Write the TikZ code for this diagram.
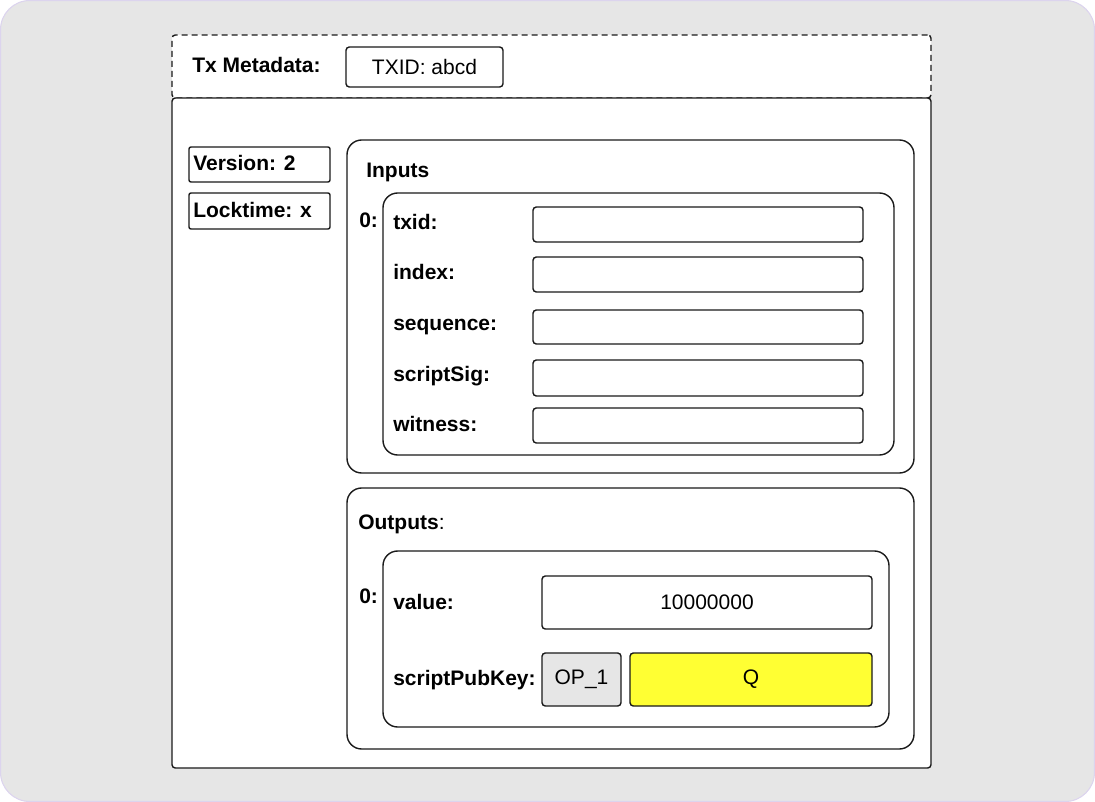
\documentclass[tikz,border=0pt]{standalone}
\usepackage{fontspec}
\setmainfont{Liberation Sans}
\usetikzlibrary{fit}
\definecolor{bggrey}{HTML}{E6E6E6}
\definecolor{bgedge}{HTML}{DCD4EE}
\definecolor{ink}{HTML}{1A1A1A}
\definecolor{qyellow}{HTML}{FFFF33}
\begin{document}
\begin{tikzpicture}[x=0.75pt,y=-0.75pt,
  box/.style={draw=ink, line width=1.05pt, inner sep=0pt, rounded corners=2.5pt, fill=white},
  group/.style={draw=ink, line width=1.05pt, inner sep=0pt, rounded corners=11pt, fill=white},
  lbl/.style={anchor=base west, inner sep=0pt, font=\fontsize{15.75}{18}\selectfont\bfseries},
  txt/.style={font=\fontsize{15.75}{18}\selectfont}
]
\useasboundingbox (0,0) rectangle (1095,802);
\node[fill=bggrey, draw=bgedge, line width=0.8pt, rounded corners=22pt, inner sep=0pt, fit={(0.5,0.5) (1094.5,801.5)}] (bg) {};
% metadata
\node[box, dash pattern=on 4.5pt off 3pt, fit={(172,35) (931,98)}] (meta) {};
\node[lbl] (metal) at (192,73) {Tx Metadata:};
\node[box, fit={(346,47) (503,87)}] (txidbox) {};
\node[txt] (txidt) at (txidbox.center) {TXID: abcd};
% main
\node[box, fit={(172,98) (931,768)}] (main) {};
\node[box, rounded corners=1.5pt, fit={(189,147) (330,182)}] (ver) {};
\node[lbl] (vert) at (193,171) {Version: 2};
\node[box, rounded corners=1.5pt, fit={(189,193) (330,229)}] (lock) {};
\node[lbl] (lockt) at (193,218) {Locktime: x};
% inputs
\node[group, fit={(347,140) (914,473)}] (inputs) {};
\node[lbl] (inputst) at (366,178) {Inputs};
\node[group, fit={(383,193) (894,455)}] (in0) {};
\node[lbl] (in0t) at (359,228) {0:};
\node[lbl] (l1) at (393,229) {txid:};
\node[lbl] (l2) at (393,279) {index:};
\node[lbl] (l3) at (393,330) {sequence:};
\node[lbl] (l4) at (393,381) {scriptSig:};
\node[lbl] (l5) at (393,431) {witness:};
\node[box, fit={(533,207) (863,242)}] (f1) {};
\node[box, fit={(533,257) (863,292)}] (f2) {};
\node[box, fit={(533,310) (863,344)}] (f3) {};
\node[box, fit={(533,360) (863,396)}] (f4) {};
\node[box, fit={(533,408) (863,443)}] (f5) {};
% outputs
\node[group, fit={(347,488) (914,749)}] (outputs) {};
\node[lbl] (outputst) at (358,529) {Outputs\textmd{:}};
\node[group, fit={(383,551) (889,727)}] (out0) {};
\node[lbl] (out0t) at (359,603) {0:};
\node[lbl] (vall) at (393,609) {value:};
\node[lbl] (spkl) at (393,685) {scriptPubKey:};
\node[box, fit={(542,576) (872,629)}] (valbox) {};
\node[txt] (valt) at (valbox.center) {10000000};
\node[box, fill=bggrey, fit={(542,653) (621,706)}] (opbox) {};
\node[txt] (opt) at (opbox.center) {OP\_1};
\node[box, fill=qyellow, fit={(630,653) (872,706)}] (qbox) {};
\node[txt] (qt) at (qbox.center) {Q};
\end{tikzpicture}
\end{document}
